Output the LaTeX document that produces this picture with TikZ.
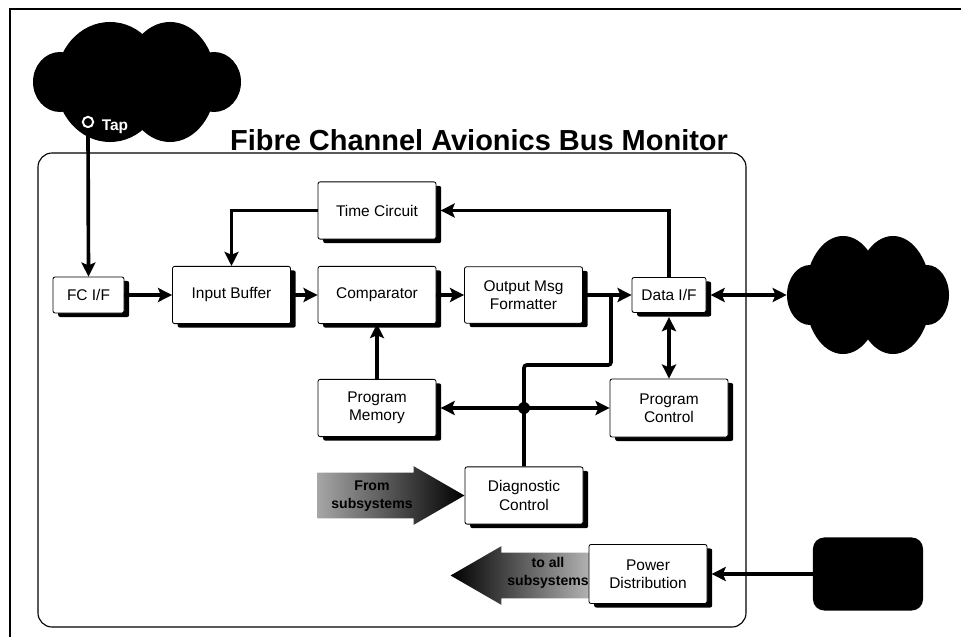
\documentclass[tikz,border=0pt]{standalone}
\usepackage{fontspec}
\setmainfont{Liberation Sans}
\usepackage{xcolor}
\usetikzlibrary{arrows.meta,shadows,shapes.geometric,shapes.arrows}

\tikzset{
    block/.style={draw, fill=white, line width=.6pt, rounded corners=1.5pt, align=center,
        font=\fontsize{11}{13}\selectfont, inner sep=0pt, minimum width=#1,
        general shadow={fill=black, shadow xshift=.13cm, shadow yshift=-.1cm}},
    block/.default=2.95cm,
    link/.style={line width=2.6pt, -{Stealth[length=10pt,width=10pt,inset=2pt]}},
    both/.style={line width=2.6pt, {Stealth[length=10pt,width=10pt,inset=2pt]}-{Stealth[length=10pt,width=10pt,inset=2pt]}},
    lobe/.style={ellipse, fill=black, inner sep=0pt},
    fatarrow/.style={single arrow, single arrow head extend=.1625cm, single arrow tip angle=60,
        inner xsep=0pt, inner ysep=.5625cm, minimum width=1.45cm},
    fatlabel/.style={align=center, font=\fontsize{10}{13}\selectfont\bfseries}
}

\begin{document}
\begin{tikzpicture}[x=.025cm, y=-.025cm]
    \useasboundingbox (0,0) rectangle (961,637);

    % frame
    \draw [line width=1.4pt] (10,637) -- (10,9) -- (961,9);
    \draw [line width=.8pt, rounded corners=10pt] (38,153) rectangle (746,627);
    \node [font=\fontsize{20.6}{22}\selectfont\bfseries] (title) at (479,140) {Fibre Channel Avionics Bus Monitor};

    % top cloud
    \node [lobe, minimum width=1.35cm, minimum height=1.5cm] (topL) at (60,82) {};
    \node [lobe, minimum width=2.7cm, minimum height=3cm] (topA) at (110,82) {};
    \node [lobe, minimum width=2.3cm, minimum height=3cm] (topB) at (170,82) {};
    \node [lobe, minimum width=1.35cm, minimum height=1.5cm] (topR) at (214,82) {};
    \node [circle, draw=white, fill=black, line width=1.4pt, inner sep=0pt, minimum size=.26cm] (tapring) at (88,122) {};
    \node [text=white, font=\fontsize{11}{12}\selectfont\bfseries] (tap) at (115,127) {Tap};

    % right cloud
    \node [lobe, minimum width=1.15cm, minimum height=1.5cm] (rightL) at (810,295) {};
    \node [lobe, minimum width=1.9cm, minimum height=2.95cm] (rightA) at (843,295) {};
    \node [lobe, minimum width=1.9cm, minimum height=2.95cm] (rightB) at (893,295) {};
    \node [lobe, minimum width=1.1cm, minimum height=1.5cm] (rightR) at (927,295) {};

    % power source
    \node [fill=black, rounded corners=8pt, minimum width=2.75cm, minimum height=1.825cm] (source) at (868,574) {};

    % fat arrows
    \node [fatarrow, anchor=tip, minimum height=3.675cm, left color=black!35, middle color=black!55, right color=black] (fromarrow) at (465,495.5) {};
    \node [fatarrow, anchor=tip, shape border rotate=180, minimum height=3.475cm, left color=black, middle color=black!55, right color=black!30] (toarrow) at (450,575.5) {};
    \node [fatlabel] (fromtext) at (372,496) {From\\subsystems};
    \node [fatlabel] (totext) at (548,573) {to all\\subsystems};

    % blocks
    \node [block=1.775cm, minimum height=.9cm] (fcif) at (88.5,295) {FC I/F};
    \node [block, minimum height=1.43cm] (input) at (231.5,295) {Input Buffer};
    \node [block, minimum height=1.43cm] (comp) at (377,295) {Comparator};
    \node [block, minimum height=1.41cm] (format) at (523.5,295) {Output Msg\\Formatter};
    \node [block=1.85cm, minimum height=.875cm] (dataif) at (669,295) {Data I/F};
    \node [block, minimum height=1.43cm] (timer) at (377,210.5) {Time Circuit};
    \node [block, minimum height=1.43cm] (memory) at (377,408) {Program\\Memory};
    \node [block, minimum height=1.45cm] (control) at (669,408) {Program\\Control};
    \node [block, minimum height=1.43cm] (diag) at (524,495.5) {Diagnostic\\Control};
    \node [block, minimum height=1.475cm] (power) at (648,574) {Power\\Distribution};

    % links
    \coordinate (dot) at (524,408);
    \coordinate (bend) at (524,365);
    \coordinate (tee) at (611,295);
    \draw [link] (tapring.south) -- (fcif.north);
    \draw [link] (fcif.east) -- (input.west);
    \draw [link] (input.east) -- (comp.west);
    \draw [link] (comp.east) -- (format.west);
    \draw [link] (format.east) -- (dataif.west);
    \draw [link] (memory.north) -- (comp.south);
    \draw [link, shorten >=3pt] (dataif.north) |- (timer.east);
    \draw [link] (timer.west) -| (input.north);
    \draw [both, shorten <=3pt] (dataif.east) -- (rightL.west);
    \draw [both, shorten <=3pt] (dataif.south) -- (control.north);
    \draw [both, shorten <=3pt] (memory.east) -- (control.west);
    \draw [link, shorten >=3pt] (source.west) -- (power.east);
    \draw [line width=2.6pt, rounded corners=2pt] (diag.north) -- (bend) -| (tee);
    \fill (dot) circle (6);
\end{tikzpicture}
\end{document}
